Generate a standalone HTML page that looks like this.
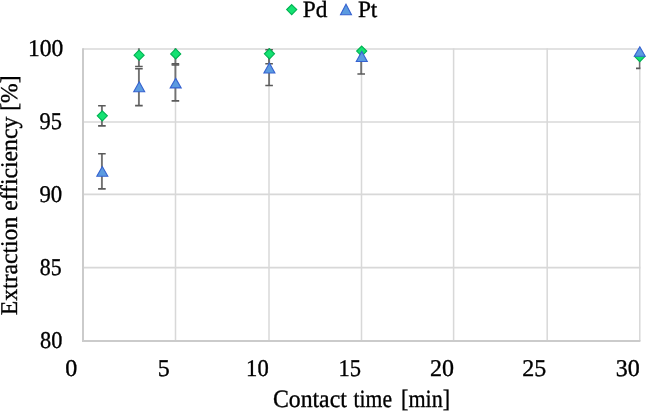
<!DOCTYPE html>
<html><head><meta charset="utf-8"><title>Extraction efficiency vs contact time</title>
<style>
html,body{margin:0;padding:0;background:#fff;}
body{width:646px;height:412px;position:relative;overflow:hidden;font-family:"Liberation Serif",serif;}
</style></head><body>
<svg width="646" height="412" viewBox="0 0 646 412" style="position:absolute;left:0;top:0">
<defs><clipPath id="pa"><rect x="82.00" y="48.30" width="558.40" height="292.70"/></clipPath></defs>
<line x1="83.00" y1="49.00" x2="640.40" y2="49.00" stroke="#D8D8D8" stroke-width="1.6"/><line x1="83.00" y1="122.00" x2="640.40" y2="122.00" stroke="#D8D8D8" stroke-width="1.6"/><line x1="83.00" y1="194.40" x2="640.40" y2="194.40" stroke="#D8D8D8" stroke-width="1.6"/><line x1="83.00" y1="267.60" x2="640.40" y2="267.60" stroke="#D8D8D8" stroke-width="1.6"/><line x1="175.50" y1="48.30" x2="175.50" y2="341.00" stroke="#D8D8D8" stroke-width="1.5"/><line x1="269.00" y1="48.30" x2="269.00" y2="341.00" stroke="#D8D8D8" stroke-width="1.5"/><line x1="361.50" y1="48.30" x2="361.50" y2="341.00" stroke="#D8D8D8" stroke-width="1.5"/><line x1="453.60" y1="48.30" x2="453.60" y2="341.00" stroke="#D8D8D8" stroke-width="1.5"/><line x1="547.20" y1="48.30" x2="547.20" y2="341.00" stroke="#D8D8D8" stroke-width="1.5"/><line x1="639.80" y1="48.30" x2="639.80" y2="341.00" stroke="#D8D8D8" stroke-width="1.5"/><line x1="82.00" y1="341.00" x2="640.40" y2="341.00" stroke="#CBCBCB" stroke-width="2"/><line x1="83.00" y1="48.30" x2="83.00" y2="342.00" stroke="#CBCBCB" stroke-width="2"/>
<g clip-path="url(#pa)"><line x1="101.90" y1="105.80" x2="101.90" y2="125.90" stroke="#727272" stroke-width="1.9"/><line x1="98.10" y1="105.80" x2="105.70" y2="105.80" stroke="#5A5A5A" stroke-width="1.6"/><line x1="98.10" y1="125.90" x2="105.70" y2="125.90" stroke="#5A5A5A" stroke-width="1.6"/><line x1="101.90" y1="153.80" x2="101.90" y2="188.90" stroke="#727272" stroke-width="1.9"/><line x1="98.10" y1="153.80" x2="105.70" y2="153.80" stroke="#5A5A5A" stroke-width="1.6"/><line x1="98.10" y1="188.90" x2="105.70" y2="188.90" stroke="#5A5A5A" stroke-width="1.6"/><line x1="138.90" y1="43.90" x2="138.90" y2="66.50" stroke="#727272" stroke-width="1.9"/><line x1="135.10" y1="43.90" x2="142.70" y2="43.90" stroke="#5A5A5A" stroke-width="1.6"/><line x1="135.10" y1="66.50" x2="142.70" y2="66.50" stroke="#5A5A5A" stroke-width="1.6"/><line x1="138.90" y1="68.80" x2="138.90" y2="105.60" stroke="#727272" stroke-width="1.9"/><line x1="135.10" y1="68.80" x2="142.70" y2="68.80" stroke="#5A5A5A" stroke-width="1.6"/><line x1="135.10" y1="105.60" x2="142.70" y2="105.60" stroke="#5A5A5A" stroke-width="1.6"/><line x1="175.40" y1="44.20" x2="175.40" y2="63.90" stroke="#727272" stroke-width="1.9"/><line x1="171.60" y1="44.20" x2="179.20" y2="44.20" stroke="#5A5A5A" stroke-width="1.6"/><line x1="171.60" y1="63.90" x2="179.20" y2="63.90" stroke="#5A5A5A" stroke-width="1.6"/><line x1="175.40" y1="65.00" x2="175.40" y2="100.90" stroke="#727272" stroke-width="1.9"/><line x1="171.60" y1="65.00" x2="179.20" y2="65.00" stroke="#5A5A5A" stroke-width="1.6"/><line x1="171.60" y1="100.90" x2="179.20" y2="100.90" stroke="#5A5A5A" stroke-width="1.6"/><line x1="269.10" y1="43.80" x2="269.10" y2="63.80" stroke="#727272" stroke-width="1.9"/><line x1="265.30" y1="43.80" x2="272.90" y2="43.80" stroke="#5A5A5A" stroke-width="1.6"/><line x1="265.30" y1="63.80" x2="272.90" y2="63.80" stroke="#5A5A5A" stroke-width="1.6"/><line x1="269.10" y1="49.80" x2="269.10" y2="85.50" stroke="#727272" stroke-width="1.9"/><line x1="265.30" y1="49.80" x2="272.90" y2="49.80" stroke="#5A5A5A" stroke-width="1.6"/><line x1="265.30" y1="85.50" x2="272.90" y2="85.50" stroke="#5A5A5A" stroke-width="1.6"/><line x1="361.20" y1="38.90" x2="361.20" y2="74.00" stroke="#727272" stroke-width="1.9"/><line x1="357.40" y1="38.90" x2="365.00" y2="38.90" stroke="#5A5A5A" stroke-width="1.6"/><line x1="357.40" y1="74.00" x2="365.00" y2="74.00" stroke="#5A5A5A" stroke-width="1.6"/><line x1="639.80" y1="44.80" x2="639.80" y2="68.40" stroke="#727272" stroke-width="1.9"/><line x1="636.00" y1="44.80" x2="643.60" y2="44.80" stroke="#5A5A5A" stroke-width="1.6"/><line x1="636.00" y1="68.40" x2="643.60" y2="68.40" stroke="#5A5A5A" stroke-width="1.6"/></g>
<path d="M102.30 110.80L107.35 115.85L102.30 120.90L97.25 115.85Z" fill="#14E272" stroke="#00B152" stroke-width="1.1"/><path d="M139.10 50.15L144.15 55.20L139.10 60.25L134.05 55.20Z" fill="#14E272" stroke="#00B152" stroke-width="1.1"/><path d="M175.70 48.85L180.75 53.90L175.70 58.95L170.65 53.90Z" fill="#14E272" stroke="#00B152" stroke-width="1.1"/><path d="M269.45 48.75L274.50 53.80L269.45 58.85L264.40 53.80Z" fill="#14E272" stroke="#00B152" stroke-width="1.1"/><path d="M361.70 46.05L366.75 51.10L361.70 56.15L356.65 51.10Z" fill="#14E272" stroke="#00B152" stroke-width="1.1"/><path d="M639.80 51.55L644.85 56.60L639.80 61.65L634.75 56.60Z" fill="#14E272" stroke="#00B152" stroke-width="1.1"/><path d="M102.30 166.50L107.80 176.30L96.80 176.30Z" fill="#5B9BE0" stroke="#3662D0" stroke-width="1.1" stroke-linejoin="miter"/><path d="M139.20 81.80L144.70 91.80L133.70 91.80Z" fill="#5B9BE0" stroke="#3662D0" stroke-width="1.1" stroke-linejoin="miter"/><path d="M175.70 78.40L181.20 87.90L170.20 87.90Z" fill="#5B9BE0" stroke="#3662D0" stroke-width="1.1" stroke-linejoin="miter"/><path d="M269.40 63.10L274.90 73.00L263.90 73.00Z" fill="#5B9BE0" stroke="#3662D0" stroke-width="1.1" stroke-linejoin="miter"/><path d="M361.80 51.40L367.30 61.50L356.30 61.50Z" fill="#5B9BE0" stroke="#3662D0" stroke-width="1.1" stroke-linejoin="miter"/><path d="M639.80 46.80L645.30 56.30L634.30 56.30Z" fill="#5B9BE0" stroke="#3662D0" stroke-width="1.1" stroke-linejoin="miter"/>
<path d="M291.70 4.55L296.75 9.60L291.70 14.65L286.65 9.60Z" fill="#14E272" stroke="#00B152" stroke-width="1.1"/><path d="M346.00 4.20L351.50 14.80L340.50 14.80Z" fill="#5B9BE0" stroke="#3662D0" stroke-width="1.1" stroke-linejoin="miter"/>
</svg>
<svg width="646" height="412" viewBox="0 0 646 412" style="position:absolute;left:0;top:0;font-family:'Liberation Serif',serif;fill:#000;stroke:#000;stroke-width:0.35px;text-rendering:geometricPrecision;will-change:transform">
<text transform="translate(63.30,56.15) scale(0.98,1.0)" text-anchor="end" font-size="24">100</text><text transform="translate(61.95,128.70) scale(0.935,1.0)" text-anchor="end" font-size="24">95</text><text transform="translate(62.20,201.95) scale(0.95,1.0)" text-anchor="end" font-size="24">90</text><text transform="translate(61.60,274.95) scale(0.91,1.0)" text-anchor="end" font-size="24">85</text><text transform="translate(62.30,347.70) scale(0.93,1.0)" text-anchor="end" font-size="24">80</text><text transform="translate(71.30,375.60)" text-anchor="middle" font-size="24">0</text><text transform="translate(163.70,375.60)" text-anchor="middle" font-size="24">5</text><text transform="translate(257.40,375.60) scale(0.94,1.0)" text-anchor="middle" font-size="24">10</text><text transform="translate(349.70,375.60) scale(0.94,1.0)" text-anchor="middle" font-size="24">15</text><text transform="translate(442.05,375.60)" text-anchor="middle" font-size="24">20</text><text transform="translate(534.20,375.60)" text-anchor="middle" font-size="24">25</text><text transform="translate(627.70,375.60)" text-anchor="middle" font-size="24">30</text><text transform="translate(272.90,407.20) scale(0.99,1.035)" text-anchor="start" font-size="24">Contact</text><text transform="translate(353.60,407.20) scale(0.9,1.035)" text-anchor="start" font-size="24">time</text><text transform="translate(401.10,407.20) scale(0.918,1.035)" text-anchor="start" font-size="24">[min]</text><text transform="translate(17.2,315.2) rotate(-90) scale(0.985,1)" font-size="24">Extraction efficiency [%]</text><text transform="translate(302.80,16.75)" text-anchor="start" font-size="23.3">Pd</text><text transform="translate(357.90,16.75)" text-anchor="start" font-size="23.3">Pt</text>
</svg>
</body></html>
